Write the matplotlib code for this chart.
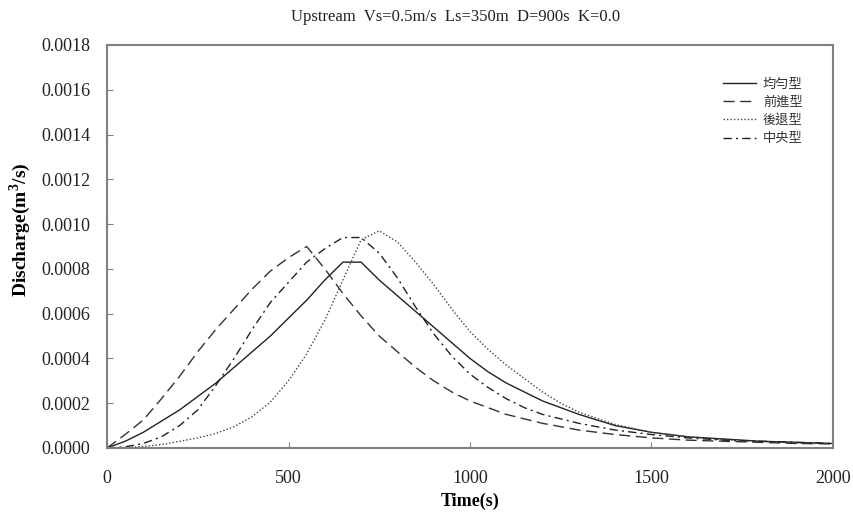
import matplotlib
matplotlib.use("Agg")
from matplotlib import pyplot as plt

# time axis (s) shared by all four hydrographs
time = [0, 50, 100, 150, 200, 250, 300, 350, 400, 450, 500, 550, 600, 650, 700,
        750, 800, 850, 900, 950, 1000, 1050, 1100, 1150, 1200, 1250, 1300,
        1400, 1500, 1600, 1700, 1800, 1900, 2000]

# discharge (m^2/s)
uniform = [0, 0.00003, 0.00007, 0.00012, 0.00017, 0.00023, 0.00029, 0.00036, 0.00043, 0.00050,
           0.00058, 0.00066, 0.00075, 0.00083, 0.00083, 0.00075, 0.00068, 0.00061, 0.00054, 0.00047,
           0.00040, 0.00034, 0.00029, 0.00025, 0.00021, 0.00018, 0.00015,
           0.00010, 0.00007, 0.00005, 0.00004, 0.00003, 0.000025, 0.00002]
advanced = [0, 0.00006, 0.000125, 0.00022, 0.00032, 0.00043, 0.00053, 0.00062, 0.00071, 0.00079,
            0.00085, 0.00090, 0.00080, 0.00069, 0.00059, 0.00050, 0.00043, 0.00036, 0.00030, 0.00025,
            0.00021, 0.00018, 0.00015, 0.00013, 0.00011, 0.000095, 0.00008,
            0.00006, 0.000045, 0.000035, 0.00003, 0.000025, 0.00002, 0.000018]
delayed = [0, 0.000002, 0.000007, 0.000015, 0.00003, 0.000045, 0.000065, 0.000095, 0.00014, 0.000205,
           0.00030, 0.00042, 0.00057, 0.00075, 0.00093, 0.00097, 0.00092, 0.00083, 0.00073, 0.00062,
           0.00052, 0.00044, 0.00037, 0.00031, 0.00025, 0.00020, 0.00016,
           0.000105, 0.00007, 0.00005, 0.000037, 0.00003, 0.000024, 0.00002]
central = [0, 0.000005, 0.00002, 0.00005, 0.00010, 0.00017, 0.00028, 0.00040, 0.00053, 0.00065,
           0.00074, 0.00083, 0.00089, 0.00094, 0.00094, 0.00087, 0.00076, 0.00063, 0.00051, 0.00041,
           0.00033, 0.00027, 0.00022, 0.00018, 0.00015, 0.00013, 0.00011,
           0.00008, 0.00006, 0.000045, 0.000035, 0.00003, 0.000025, 0.00002]

labels = ["均勻型", "前進型", "後退型", "中央型"]
yticks = [0.0000, 0.0002, 0.0004, 0.0006, 0.0008, 0.0010, 0.0012, 0.0014, 0.0016, 0.0018]
xticks = [0, 500, 1000, 1500, 2000]

plt.rcParams["font.family"] = ["Liberation Serif", "Noto Sans CJK TC"]

fig = plt.figure(figsize=(8.54, 5.17), dpi=100)
ax = fig.add_axes([0.1253, 0.1335, 0.8501, 0.7795])

ax.plot(time, uniform, color="#222222", lw=1.0, ls="-", label=labels[0])
ax.plot(time, advanced, color="#333333", lw=1.0, dashes=(8, 4), label=labels[1])
ax.plot(time, delayed, color="#444444", lw=1.0, dashes=(1, 1.5), label=labels[2])
ax.plot(time, central, color="#222222", lw=1.0, dashes=(6, 3, 1.5, 3), label=labels[3])

ax.set_xlim(0, 2000)
ax.set_ylim(0, 0.0018)
ax.set_xticks(xticks)
ax.set_yticks(yticks)
ax.set_yticklabels([f"{v:.4f}" for v in yticks])
ax.tick_params(direction="in", length=4, color="#808080", labelsize=13, labelcolor="#222222")
ax.tick_params(axis="x", pad=16)
ax.tick_params(axis="y", pad=12)
for sp in ax.spines.values():
    sp.set_color("#808080")
    sp.set_linewidth(1.5)

ax.set_xlabel("Time(s)", fontsize=13, fontweight="bold", labelpad=4)
ax.set_ylabel("Discharge(m$^\\mathregular{3}$/s)", fontsize=14, fontweight="bold", labelpad=8)
ax.yaxis.set_label_coords(-0.102, 0.542)
fig.text(0.534, 0.967, "Upstream  Vs=0.5m/s  Ls=350m  D=900s  K=0.0", ha="center", va="center",
         fontsize=12, color="#222222")

leg = ax.legend(loc="upper left", bbox_to_anchor=(0.847, 0.85), bbox_transform=fig.transFigure,
                frameon=False, fontsize=9.5, handlelength=2.5, handletextpad=0.5,
                labelspacing=0.4, borderpad=0, borderaxespad=0)
for t in leg.get_texts():
    t.set_family(["Noto Sans CJK TC"])
    t.set_color("#333333")

fig.savefig("out.png", dpi=100)
